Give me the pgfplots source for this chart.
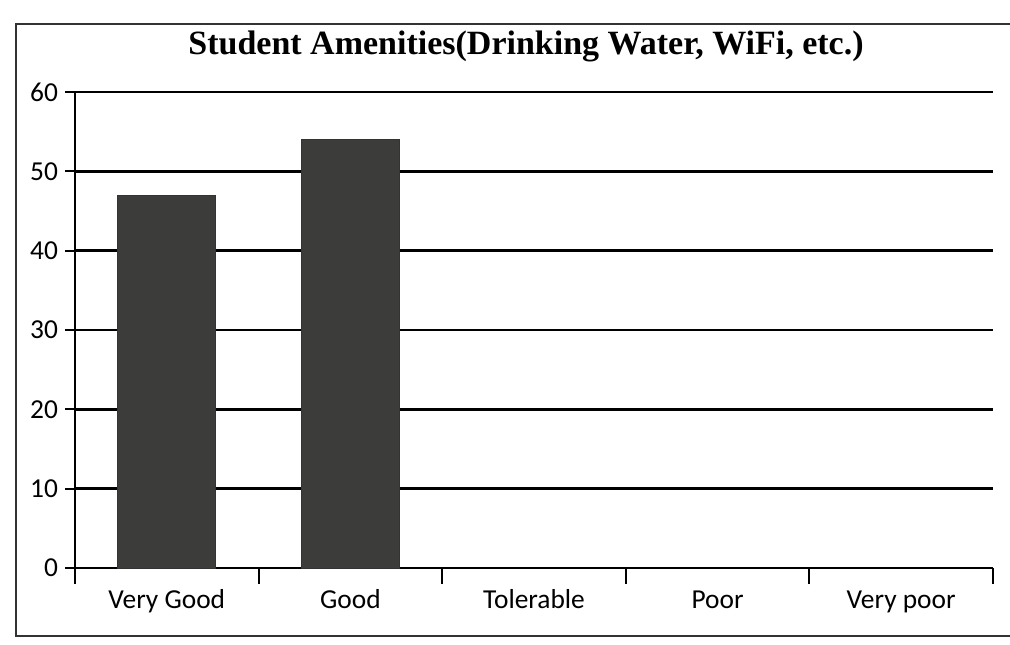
\documentclass[border=0pt]{standalone}
\usepackage{fontspec}
\setmainfont{Carlito}
\newfontfamily\titlefont{Liberation Serif}
\usepackage{pgfplots}
\pgfplotsset{compat=1.18}
\definecolor{barfill}{RGB}{60,60,58}
\begin{document}
\begin{tikzpicture}
\clip (0,0) rectangle (505pt,322pt);
\fill[white] (0,0) rectangle (505pt,322pt);
\draw[line width=1pt, black!80] (8pt,4pt) rectangle (530pt,310pt);
\node[font=\titlefont\bfseries\fontsize{17}{20}\selectfont] at (263pt,299pt) {Student Amenities(Drinking Water, WiFi, etc.)};
\begin{axis}[
  at={(37.5pt,38pt)}, anchor=south west,
  scale only axis, width=459pt, height=238pt,
  xmin=-0.5, xmax=4.5, ymin=0, ymax=60,
  axis lines=left, axis line style={-, line width=1.1pt},
  ytick={0,10,...,60},
  ymajorgrids, grid style={line width=1.2pt, black},
  xtick={0,...,4},
  xticklabels={Very Good, Good, Tolerable, Poor, Very poor},
  major x tick style={draw=none},
  minor xtick={-0.5,0.5,...,4.5},
  minor tick length=8pt,
  minor x tick style={line width=1pt, black},
  tick align=outside,
  major tick length=5pt,
  tick style={line width=1pt, black},
  ticklabel style={font=\fontsize{13.7}{15}\selectfont},
  xticklabel style={yshift=-4pt, text height=1.6ex, text depth=0.5ex},
  /pgf/number format/assume math mode=true,
  ybar, bar width=49pt,
]
\addplot[fill=barfill, draw=black!80] coordinates {(0,47) (1,54)};
\end{axis}
\end{tikzpicture}
\end{document}
